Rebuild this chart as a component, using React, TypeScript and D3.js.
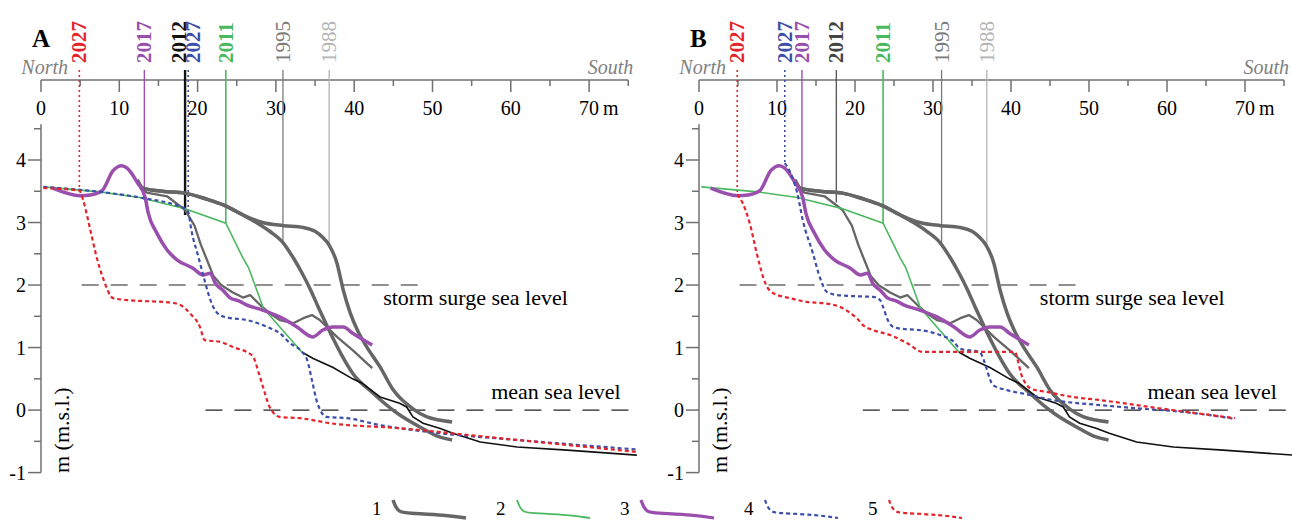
import React from 'react'
import * as d3 from 'd3'

/** [distance from north end (m), elevation (m.s.l.)] */
type Pt = [number, number]

/** Measured profiles, shared by both panels */
const profile1988: Pt[] = [
    [12.3, 3.68], [13.0, 3.55], [15.5, 3.50], [18.4, 3.47], [21.0, 3.38], [23.5, 3.27], [25.8, 3.12],
    [28.3, 3.00], [31.0, 2.95], [33.5, 2.92], [35.0, 2.86], [36.0, 2.76], [36.8, 2.64], [37.8, 2.35],
    [38.6, 1.92], [39.5, 1.55], [40.4, 1.28], [41.6, 1.01], [43.3, 0.69], [45.0, 0.32], [47.5, 0.02],
    [49.3, -0.11], [50.9, -0.16], [52.5, -0.19]
]

const profile1995: Pt[] = [
    [12.3, 3.68], [13.0, 3.55], [15.5, 3.50], [18.4, 3.47], [21.0, 3.38], [23.5, 3.27], [25.8, 3.12],
    [27.5, 3.0], [29.2, 2.86], [30.9, 2.68], [32.2, 2.44], [33.3, 2.2], [34.4, 1.93], [35.4, 1.65],
    [36.4, 1.38], [37.4, 1.12], [38.4, 0.88], [39.8, 0.59], [42.4, 0.27], [45.5, -0.05], [48.4, -0.27],
    [50.9, -0.43], [52.5, -0.48]
]

const profile2012: Pt[] = [
    [12.3, 3.68], [12.8, 3.55], [13.5, 3.48], [16.1, 3.42], [18.4, 3.20], [19.6, 2.95], [20.4, 2.65],
    [21.2, 2.40], [22.0, 2.15], [23.0, 2.00], [24.5, 1.88], [25.8, 1.80], [26.7, 1.84], [28.0, 1.68],
    [29.2, 1.55], [30.5, 1.44], [32.2, 1.39], [33.5, 1.47], [34.6, 1.52], [35.6, 1.44], [37.8, 1.17],
    [39.8, 0.96], [42.3, 0.67]
]

const profile2011: Pt[] = [
    [0.3, 3.57], [7.5, 3.49], [12.6, 3.40], [18.4, 3.22], [23.6, 2.99], [25.8, 2.43], [26.5, 2.28],
    [28.4, 1.63], [30.5, 1.33], [33.3, 0.93]
]

const offshore: Pt[] = [
    [33.3, 0.93], [34.7, 0.83], [37.3, 0.68], [39.8, 0.50], [41.0, 0.43], [43.3, 0.21], [45.8, 0.11],
    [46.7, 0.05], [47.5, -0.11], [48.8, -0.21], [50.9, -0.29], [52.6, -0.37], [56.1, -0.51],
    [60.8, -0.59], [67.2, -0.64], [76.1, -0.72]
]

const profile2017: Pt[] = [
    [1.5, 3.55], [5.0, 3.43], [6.3, 3.44], [7.8, 3.51], [9.2, 3.83], [10.3, 3.91], [11.0, 3.87],
    [12.3, 3.64], [13.3, 3.40], [13.7, 3.15], [14.8, 2.83], [16.1, 2.56], [17.4, 2.40], [19.4, 2.27],
    [20.7, 2.16], [21.6, 2.19], [22.3, 2.02], [23.2, 1.92], [24.1, 1.80], [25.4, 1.74], [26.3, 1.68],
    [28.3, 1.60], [30.5, 1.49], [32.7, 1.33], [34.7, 1.17], [36.0, 1.28], [37.3, 1.33], [38.6, 1.33],
    [39.8, 1.23], [42.3, 1.04]
]

/** Forecast profiles for 2027, panel A */
const blueA: Pt[] = [
    [0.3, 3.57], [7.5, 3.49], [12.6, 3.40], [18.4, 3.22], [18.8, 3.17], [19.2, 2.88], [20.1, 2.45],
    [20.8, 2.12], [21.4, 1.85], [22.0, 1.65], [22.7, 1.53], [23.8, 1.48], [26.3, 1.44], [28.9, 1.33],
    [30.5, 1.23], [31.8, 1.07], [33.1, 0.96], [34.0, 0.80], [34.6, 0.48], [35.3, 0.11], [36.5, -0.11],
    [39.1, -0.13], [43.3, -0.24], [50.9, -0.37], [60.0, -0.47], [76.1, -0.63]
]

const redA: Pt[] = [
    [0.3, 3.55], [4.9, 3.51], [5.4, 3.35], [6.3, 2.88], [7.2, 2.40], [7.9, 2.12], [9.2, 1.79],
    [11.0, 1.76], [13.9, 1.74], [16.5, 1.72], [17.8, 1.68], [19.0, 1.55], [20.3, 1.33], [20.9, 1.12],
    [22.9, 1.09], [24.5, 1.01], [27.0, 0.87], [27.8, 0.60], [28.4, 0.35], [29.2, 0.05], [30.5, -0.11],
    [33.1, -0.13], [36.9, -0.21], [45.8, -0.29], [58.6, -0.45], [76.1, -0.67]
]

/** Forecast profiles for 2027, panel B */
const blueB: Pt[] = [
    [11.0, 3.95], [11.7, 3.80], [12.6, 3.47], [13.3, 3.04], [14.6, 2.51], [15.5, 2.12], [16.4, 1.89],
    [17.7, 1.84], [20.3, 1.82], [22.3, 1.81], [23.2, 1.76], [23.6, 1.65], [24.2, 1.44], [24.9, 1.33],
    [26.0, 1.30], [28.3, 1.28], [30.9, 1.20], [32.6, 1.10], [33.5, 0.98], [36.0, 0.93], [36.5, 0.80],
    [37.7, 0.40], [39.5, 0.32], [42.1, 0.25], [45.4, 0.16], [51.4, 0.08], [57.0, 0.02], [62.1, -0.03],
    [68.7, -0.14]
]

const redB: Pt[] = [
    [4.9, 3.45], [5.6, 3.31], [6.5, 2.99], [7.4, 2.51], [8.5, 2.03], [9.5, 1.87], [11.7, 1.79],
    [13.8, 1.73], [15.9, 1.71], [18.1, 1.65], [19.4, 1.55], [20.3, 1.46], [21.1, 1.35], [22.3, 1.28],
    [24.5, 1.20], [26.7, 1.07], [28.7, 0.93], [33.1, 0.93], [37.3, 0.93], [40.5, 0.93], [40.9, 0.78],
    [41.3, 0.58], [41.8, 0.44], [42.6, 0.34], [44.6, 0.29], [47.9, 0.21], [51.4, 0.16], [57.8, 0.05],
    [68.7, -0.13]
]

const xTicks = [0, 10, 20, 30, 40, 50, 60, 70]
const yTicks = [-1, 0, 1, 2, 3, 4]
const legendLabels = ['1', '2', '3', '4', '5']
const stormSurgeLevel = 2
const meanSeaLevel = 0

/** Year markers: label, distance, elevation the marker drops to, style key */
type Marker = { year: string, at: number, foot: number, kind: string }

const markersA: Marker[] = [
    { year: '2027', at: 4.9, foot: 3.51, kind: 'red' },
    { year: '2017', at: 13.2, foot: 3.36, kind: 'purple' },
    { year: '2012', at: 18.4, foot: 3.12, kind: 'black' },
    { year: '2027', at: 18.8, foot: 3.17, kind: 'blue' },
    { year: '2011', at: 23.6, foot: 2.99, kind: 'green' },
    { year: '1995', at: 30.9, foot: 2.68, kind: 'gray' },
    { year: '1988', at: 36.8, foot: 2.62, kind: 'light' }
]

const markersB: Marker[] = [
    { year: '2027', at: 4.9, foot: 3.45, kind: 'red' },
    { year: '2027', at: 11.0, foot: 3.93, kind: 'blue' },
    { year: '2017', at: 13.2, foot: 3.39, kind: 'purple' },
    { year: '2012', at: 17.6, foot: 3.32, kind: 'dark' },
    { year: '2011', at: 23.6, foot: 2.99, kind: 'green' },
    { year: '1995', at: 31.1, foot: 2.68, kind: 'gray' },
    { year: '1988', at: 36.9, foot: 2.62, kind: 'light' }
]

const RED = '#e4232b'
const BLUE = '#3d4fa8'
const PURPLE = '#9a4fae'
const GREEN = '#4ab85e'
const GRAY = '#666666'
const AXIS = '#707070'
const FONT = '"Liberation Serif", "DejaVu Serif", serif'

const markerStyle = {
    red: { color: RED, width: 1.6, dash: '2,3', bold: true },
    blue: { color: BLUE, width: 1.6, dash: '2,3', bold: true },
    purple: { color: PURPLE, width: 1.4, dash: null, bold: true },
    black: { color: '#111', width: 2.4, dash: null, bold: true },
    dark: { color: '#444', width: 1.2, dash: null, bold: true },
    green: { color: GREEN, width: 1.6, dash: null, bold: true },
    gray: { color: '#7a7a7a', width: 1.3, dash: null, bold: false },
    light: { color: '#b4b4b4', width: 1.3, dash: null, bold: false }
}

interface PanelProps {
    letter: string,
    left: number,
    pxPerM: number,
    markers: Marker[],
    labelNudge: number[],
    blue: Pt[],
    red: Pt[]
}

const AXIS_Y = 80
const MARKER_TOP = 70

/**
 * One cross-shore profile panel
 */
const Panel = (props: PanelProps) => {
    const { letter, left, pxPerM, markers, labelNudge, blue, red } = props
    const x = d3.scaleLinear().domain([0, 75]).range([left, left + 75 * pxPerM])
    const y = d3.scaleLinear().domain([-1, 4]).range([472.6, 160])
    const smooth = d3.line<Pt>().x((d) => x(d[0])).y((d) => y(d[1])).curve(d3.curveMonotoneX)
    const straight = d3.line<Pt>().x((d) => x(d[0])).y((d) => y(d[1]))
    const x0 = x(0)

    return (
        <g>
            {/* panel letter, North / South */}
            <text x={x0 - 9} y={47} fontSize={25} fontWeight='bold'>{letter}</text>
            <text x={x0 + 27} y={74} fontSize={20} fontStyle='italic' fill='#808080' textAnchor='end'>North</text>
            <text x={x(75) + 5} y={74} fontSize={20} fontStyle='italic' fill='#808080' textAnchor='end'>South</text>

            {/* top distance axis */}
            <line x1={x0} x2={x(75)} y1={AXIS_Y} y2={AXIS_Y} stroke={AXIS} strokeWidth={1.5} />
            {xTicks.map((t) => (
                <g key={'xt' + t}>
                    <line x1={x(t)} x2={x(t)} y1={AXIS_Y} y2={AXIS_Y + 12} stroke={AXIS} strokeWidth={1.5} />
                    <text x={x(t)} y={115} fontSize={20} textAnchor='middle'>{t}</text>
                </g>
            ))}
            {xTicks.map((t) => (
                <line key={'xm' + t} x1={x(t + 5)} x2={x(t + 5)} y1={AXIS_Y} y2={AXIS_Y + 6} stroke={AXIS} strokeWidth={1.5} />
            ))}
            <text x={x(70) + 14} y={115} fontSize={20}>m</text>

            {/* elevation axis */}
            <line x1={x0} x2={x0} y1={y(-1)} y2={y(4.57)} stroke={AXIS} strokeWidth={1.5} />
            {yTicks.map((t) => (
                <g key={'yt' + t}>
                    <line x1={x0 - 13} x2={x0} y1={y(t)} y2={y(t)} stroke={AXIS} strokeWidth={1.5} />
                    <line x1={x0 - 7} x2={x0} y1={y(t + 0.5)} y2={y(t + 0.5)} stroke={AXIS} strokeWidth={1.5} />
                    <text x={x0 - 15} y={y(t)} dy='0.35em' fontSize={20} textAnchor='end'>{t}</text>
                </g>
            ))}
            <text transform={`translate(${x0 + 28}, 473) rotate(-90)`} fontSize={22}>m (m.s.l.)</text>

            {/* reference water levels */}
            <line x1={x(5.2)} x2={x(49.4)} y1={y(stormSurgeLevel)} y2={y(stormSurgeLevel)}
                stroke='#222' strokeWidth={1.1} strokeDasharray='17,12' />
            <text x={x(43.7)} y={y(1.68)} fontSize={22}>storm surge sea level</text>
            <line x1={x(21)} x2={x(75.9)} y1={y(meanSeaLevel)} y2={y(meanSeaLevel)}
                stroke='#222' strokeWidth={1.1} strokeDasharray='17,12' />
            <text x={x(57.5)} y={y(0.18)} fontSize={22}>mean sea level</text>

            {/* year markers */}
            {markers.map((m, i) => {
                const s = markerStyle[m.kind]
                const lx = x(m.at) + labelNudge[i]
                return (
                    <g key={'mk' + i}>
                        <line x1={x(m.at)} x2={x(m.at)} y1={MARKER_TOP} y2={y(m.foot)}
                            stroke={s.color} strokeWidth={s.width} strokeDasharray={s.dash || undefined} />
                        <text transform={`translate(${lx + 7}, 63) rotate(-90)`} fontSize={21}
                            fill={s.color} fontWeight={s.bold ? 'bold' : 'normal'}>{m.year}</text>
                    </g>
                )
            })}

            {/* profiles */}
            <path d={smooth(profile1988)} fill='none' stroke={GRAY} strokeWidth={3.5} strokeLinejoin='round' />
            <path d={smooth(profile1995)} fill='none' stroke={GRAY} strokeWidth={3.5} strokeLinejoin='round' />
            <path d={straight(profile2012)} fill='none' stroke={GRAY} strokeWidth={2.3} strokeLinejoin='round' />
            <path d={straight(profile2011)} fill='none' stroke={GREEN} strokeWidth={1.6} />
            <path d={straight(offshore)} fill='none' stroke='#111' strokeWidth={1.6} />
            <path d={smooth(profile2017)} fill='none' stroke={PURPLE} strokeWidth={3.5} strokeLinejoin='round' />
            <path d={smooth(blue)} fill='none' stroke={BLUE} strokeWidth={2.2} strokeDasharray='4,3' />
            <path d={smooth(red)} fill='none' stroke={RED} strokeWidth={2.2} strokeDasharray='4,3' />
        </g>
    )
}

const legendStyle = [
    { color: GRAY, width: 3.5, dash: null },
    { color: GREEN, width: 1.8, dash: null },
    { color: PURPLE, width: 3.2, dash: null },
    { color: BLUE, width: 2.2, dash: '4,3' },
    { color: RED, width: 2.2, dash: '4,3' }
]

/**
 * Bottom legend with a small profile-shaped swatch per item
 */
const Legend = () => {
    const pos = d3.scalePoint<string>().domain(legendLabels).range([372, 868])
    const swatch: Pt[] = [[0, 0], [3, 8], [7, 12], [13, 13], [53, 15], [73, 18]]
    const shape = d3.line<Pt>().curve(d3.curveBasis)
    return (
        <g>
            {legendLabels.map((l, i) => {
                const s = legendStyle[i]
                const px = pos(l)
                return (
                    <g key={l} transform={`translate(${px}, 0)`}>
                        <text x={0} y={515} fontSize={19}>{l}</text>
                        <path d={shape(swatch)} transform='translate(21, 500)' fill='none'
                            stroke={s.color} strokeWidth={s.width} strokeDasharray={s.dash || undefined} />
                    </g>
                )
            })}
        </g>
    )
}

export default function App () {
    return (
        <svg width={1292} height={520} fontFamily={FONT}
            style={{ position: 'absolute', left: 0, top: 0, background: '#fff' }}>
            <Panel letter='A' left={41} pxPerM={7.83} markers={markersA}
                labelNudge={[0, 0, -6, 5, 0, 0, 0]} blue={blueA} red={redA} />
            <Panel letter='B' left={699} pxPerM={7.8} markers={markersB}
                labelNudge={[0, 0, 0, 0, 0, 0, 0]} blue={blueB} red={redB} />
            <Legend />
        </svg>
    )
}
